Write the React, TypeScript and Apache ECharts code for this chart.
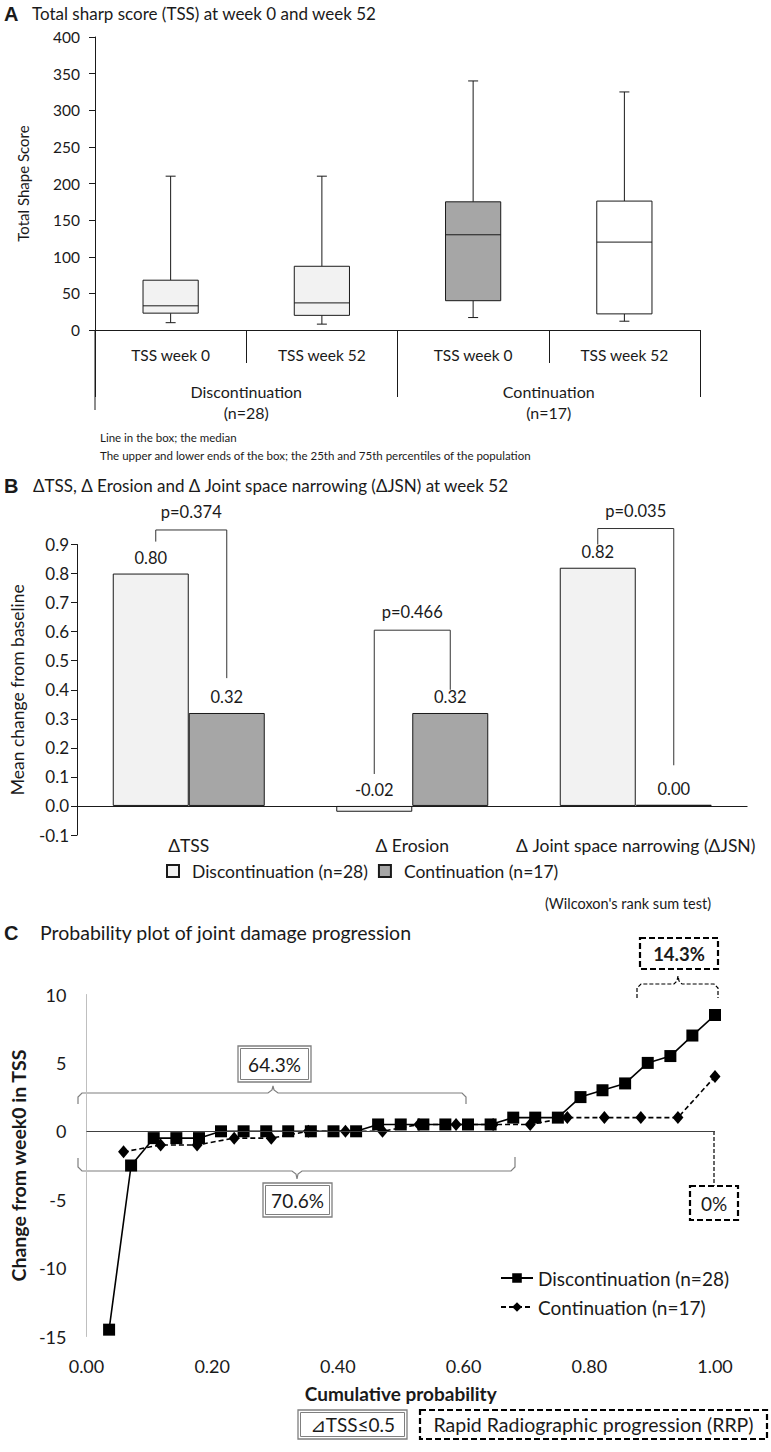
import React, { useEffect, useRef } from "react";
import * as echarts from "echarts";

const FONT = "Lato, 'DejaVu Sans', sans-serif";
const INK = "#1a1a1a";

// ---------- Panel A : Total sharp score boxes ----------
const weekLabels = ["TSS week 0", "TSS week 52", "TSS week 0", "TSS week 52"];
const groupLabels = ["Discontinuation\n(n=28)", "Continuation\n(n=17)"];
const tssMin = [10, 8, 17, 12];
const tssQ1 = [23, 20, 40, 22];
const tssMedian = [33, 37, 130, 120];
const tssQ3 = [68, 87, 175, 176];
const tssMax = [210, 210, 340, 325];
const boxFills = ["#f2f2f2", "#f2f2f2", "#a6a6a6", "#ffffff"];

// ---------- Panel B : mean change from baseline ----------
const deltaLabels = ["ΔTSS", "Δ Erosion", "Δ Joint space narrowing (ΔJSN)"];
const deltaDisc = [0.8, -0.02, 0.82];
const deltaCont = [0.32, 0.32, 0.004];
const pLabels = ["p=0.374", "p=0.466", "p=0.035"];

// ---------- Panel C : probability plot ----------
const discProb = [0.036, 0.071, 0.107, 0.143, 0.179, 0.214, 0.25, 0.286, 0.321, 0.357, 0.393, 0.429, 0.464, 0.5,
  0.536, 0.571, 0.607, 0.643, 0.679, 0.714, 0.75, 0.786, 0.821, 0.857, 0.893, 0.929, 0.964, 1.0];
const discChange = [-14.5, -2.5, -0.5, -0.5, -0.5, 0, 0, 0, 0, 0, 0, 0, 0.5, 0.5,
  0.5, 0.5, 0.5, 0.5, 1, 1, 1, 2.5, 3, 3.5, 5, 5.5, 7, 8.5];
const contProb = [0.059, 0.118, 0.176, 0.235, 0.294, 0.353, 0.412, 0.471, 0.529, 0.588, 0.647, 0.706, 0.765,
  0.824, 0.882, 0.941, 1.0];
const contChange = [-1.5, -1, -1, -0.5, -0.5, 0, 0, 0, 0.5, 0.5, 0.5, 0.5, 1, 1, 1, 1, 4];

const txt = (text: string, x: number, y: number, size: number, extra: any = {}) => ({
  type: "text",
  x,
  y,
  silent: true,
  style: {
    text,
    fontSize: size,
    fontFamily: FONT,
    fill: INK,
    textAlign: "left",
    textVerticalAlign: "middle",
    ...extra,
  },
});

export default function App() {
  const ref = useRef<HTMLDivElement>(null);

  useEffect(() => {
    const chart = echarts.init(ref.current!, null, { renderer: "svg" });

    const boxData = weekLabels.map((_, i) => [i, tssMin[i], tssQ1[i], tssMedian[i], tssQ3[i], tssMax[i]]);

    const option: any = {
      animation: false,
      backgroundColor: "#ffffff",
      textStyle: { fontFamily: FONT, color: INK },
      grid: [
        { left: 95, right: 71, top: 37, height: 293 },
        { left: 72.5, right: 23.5, top: 544.5, height: 290.5 },
        { left: 77, right: 56, top: 994.5, height: 342 },
      ],
      xAxis: [
        {
          gridIndex: 0,
          type: "category",
          data: weekLabels,
          axisLine: { show: true, lineStyle: { color: INK, width: 1 } },
          axisTick: { show: true, length: 33, lineStyle: { color: INK } },
          axisLabel: { interval: 0, margin: 17, fontSize: 15.5, color: INK, fontFamily: FONT },
        },
        {
          gridIndex: 0,
          type: "category",
          position: "bottom",
          data: groupLabels,
          axisLine: { show: false },
          axisTick: { show: true, length: 67, lineStyle: { color: INK } },
          axisLabel: { interval: 0, margin: 51, fontSize: 16, lineHeight: 21, color: INK, fontFamily: FONT },
        },
        {
          gridIndex: 1,
          type: "category",
          data: deltaLabels,
          axisLine: { show: false, onZero: false },
          axisTick: { show: false },
          axisLabel: { interval: 0, margin: 1, fontSize: 17.5, color: INK, fontFamily: FONT },
        },
        {
          gridIndex: 2,
          type: "value",
          min: 0,
          max: 1,
          interval: 0.2,
          axisLine: { show: false, onZero: false },
          axisTick: { show: false },
          splitLine: { show: false },
          axisLabel: { margin: 20, fontSize: 18, color: INK, fontFamily: FONT, formatter: (v: number) => v.toFixed(2) },
          name: "Cumulative probability",
          nameLocation: "middle",
          nameGap: 47,
          nameTextStyle: { fontWeight: "bold", fontSize: 19, color: INK, fontFamily: FONT },
        },
      ],
      yAxis: [
        {
          gridIndex: 0,
          type: "value",
          min: 0,
          max: 400,
          interval: 50,
          axisLine: { show: true, lineStyle: { color: INK } },
          axisTick: { show: true, length: 6, lineStyle: { color: INK } },
          splitLine: { show: false },
          axisLabel: { margin: 15, fontSize: 15.5, color: INK, fontFamily: FONT },
          name: "Total Shape Score",
          nameLocation: "middle",
          nameGap: 65,
          nameTextStyle: { fontSize: 15, color: INK, fontFamily: FONT },
        },
        {
          gridIndex: 1,
          type: "value",
          min: -0.1,
          max: 0.9,
          interval: 0.1,
          axisLine: { show: true, lineStyle: { color: INK } },
          axisTick: { show: true, length: 6, lineStyle: { color: INK } },
          splitLine: { show: false },
          axisLabel: { margin: 8, fontSize: 17, color: INK, fontFamily: FONT, formatter: (v: number) => v.toFixed(1) },
          name: "Mean change from baseline",
          nameLocation: "middle",
          nameGap: 51,
          nameTextStyle: { fontSize: 17.5, color: INK, fontFamily: FONT },
        },
        {
          gridIndex: 2,
          type: "value",
          min: -15,
          max: 10,
          interval: 5,
          axisLine: { show: true, onZero: false, lineStyle: { color: "#bfbfbf" } },
          axisTick: { show: false },
          splitLine: { show: false },
          axisLabel: { margin: 20, fontSize: 18, color: INK, fontFamily: FONT },
          name: "Change from week0 in TSS",
          nameLocation: "middle",
          nameGap: 52,
          nameTextStyle: { fontWeight: "bold", fontSize: 19.5, color: INK, fontFamily: FONT },
        },
      ],
      legend: [
        {
          data: ["Discontinuation (n=28)", "Continuation (n=17)"],
          left: 161,
          top: 857,
          icon: "rect",
          itemWidth: 12,
          itemHeight: 12,
          itemGap: 10,
          selectedMode: false,
          textStyle: { fontSize: 17.5, color: INK, fontFamily: FONT, padding: [0, 0, 0, 8] },
        },
        {
          data: ["discC", "contC"],
          formatter: (n: string) => (n === "discC" ? "Discontinuation (n=28)" : "Continuation (n=17)"),
          orient: "vertical",
          left: 495,
          top: 1263,
          itemWidth: 32,
          itemHeight: 12,
          itemGap: 9,
          selectedMode: false,
          textStyle: { fontSize: 19, lineHeight: 20, color: INK, fontFamily: FONT },
        },
      ],
      series: [
        {
          type: "custom",
          xAxisIndex: 0,
          yAxisIndex: 0,
          data: boxData,
          renderItem: (params: any, api: any) => {
            const i = api.value(0);
            const cx = api.coord([i, 0])[0];
            const w = api.size([1, 0])[0] * 0.365;
            const yMin = api.coord([i, api.value(1)])[1];
            const yQ1 = api.coord([i, api.value(2)])[1];
            const yMed = api.coord([i, api.value(3)])[1];
            const yQ3 = api.coord([i, api.value(4)])[1];
            const yMax = api.coord([i, api.value(5)])[1];
            const ls = { stroke: INK, lineWidth: 1 };
            return {
              type: "group",
              children: [
                { type: "line", shape: { x1: cx, y1: yMax, x2: cx, y2: yQ3 }, style: ls },
                { type: "line", shape: { x1: cx - 5, y1: yMax, x2: cx + 5, y2: yMax }, style: ls },
                { type: "line", shape: { x1: cx, y1: yQ1, x2: cx, y2: yMin }, style: ls },
                { type: "line", shape: { x1: cx - 5, y1: yMin, x2: cx + 5, y2: yMin }, style: ls },
                {
                  type: "rect",
                  shape: { x: cx - w / 2, y: yQ3, width: w, height: yQ1 - yQ3 },
                  style: { fill: boxFills[i], stroke: INK, lineWidth: 1 },
                },
                { type: "line", shape: { x1: cx - w / 2, y1: yMed, x2: cx + w / 2, y2: yMed }, style: ls },
              ],
            };
          },
        },
        {
          type: "bar",
          name: "Discontinuation (n=28)",
          xAxisIndex: 2,
          yAxisIndex: 1,
          data: deltaDisc,
          barWidth: 76,
          barGap: "0%",
          itemStyle: { color: "#f2f2f2", borderColor: INK, borderWidth: 1 },
          label: {
            show: true,
            position: "top",
            distance: 7,
            fontSize: 16.5,
            color: INK,
            fontFamily: FONT,
            formatter: (p: any) => Number(p.value).toFixed(2),
          },
          markLine: {
            silent: true,
            symbol: ["none", "none"],
            label: { show: false },
            lineStyle: { color: INK, width: 1, type: "solid" },
            data: [{ yAxis: 0 }],
          },
        },
        {
          type: "bar",
          name: "Continuation (n=17)",
          xAxisIndex: 2,
          yAxisIndex: 1,
          data: deltaCont,
          barWidth: 76,
          barGap: "0%",
          itemStyle: { color: "#a6a6a6", borderColor: INK, borderWidth: 1 },
          label: {
            show: true,
            position: "top",
            distance: 7,
            fontSize: 16.5,
            color: INK,
            fontFamily: FONT,
            formatter: (p: any) => Number(p.value).toFixed(2),
          },
        },
        {
          type: "line",
          name: "discC",
          xAxisIndex: 3,
          yAxisIndex: 2,
          data: discProb.map((p, i) => [p, discChange[i]]),
          symbol: "rect",
          symbolSize: 12,
          showAllSymbol: true,
          lineStyle: { color: "#000", width: 1.6 },
          itemStyle: { color: "#000" },
          z: 3,
          markLine: {
            silent: true,
            symbol: ["none", "none"],
            label: { show: false },
            lineStyle: { color: "#404040", width: 1, type: "solid" },
            data: [{ yAxis: 0 }],
          },
        },
        {
          type: "line",
          name: "contC",
          xAxisIndex: 3,
          yAxisIndex: 2,
          data: contProb.map((p, i) => [p, contChange[i]]),
          symbol: "diamond",
          symbolSize: [11, 13],
          showAllSymbol: true,
          lineStyle: { color: "#000", width: 1.6, type: [5, 3] },
          itemStyle: { color: "#000" },
          z: 2,
        },
      ],
    };

    chart.setOption(option);

    // ---- annotations ----
    const g: any[] = [];
    const letterFont = "'Liberation Sans', Arial, sans-serif";
    g.push(txt("A", 4, 14, 20, { fontWeight: "bold", fontFamily: letterFont }));
    g.push(txt("Total sharp score (TSS) at week 0 and week 52", 32, 13, 17));
    g.push(txt("B", 4, 486, 20, { fontWeight: "bold", fontFamily: letterFont }));
    g.push(txt("ΔTSS, Δ Erosion and Δ Joint space narrowing (ΔJSN) at week 52", 33, 485, 17));
    g.push(txt("C", 4, 933, 20, { fontWeight: "bold", fontFamily: letterFont }));
    g.push(txt("Probability plot of joint damage progression", 40, 932, 19.5));

    // panel A extras
    g.push({ type: "line", silent: true, shape: { x1: 95, y1: 330, x2: 95, y2: 410 }, style: { stroke: INK, lineWidth: 1 } });
    g.push(txt("Line in the box; the median", 100, 437, 11.5));
    g.push(txt("The upper and lower ends of the box; the 25th and 75th percentiles of the population", 100, 455, 11.5));

    // panel B p-value brackets
    const half = 38;
    const brTop = [0.95, 0.605, 0.955];
    const brLeft = [0.91, 0.11, 0.9];
    const brRight = [0.44, 0.4, 0.14];
    for (let k = 0; k < 3; k++) {
      const c = chart.convertToPixel({ seriesIndex: 1 }, [k, 0]) as number[];
      const xl = c[0] - half + (k === 0 ? 5 : 0);
      const xr = c[0] + half;
      const yt = (chart.convertToPixel({ seriesIndex: 1 }, [k, brTop[k]]) as number[])[1];
      const yl = (chart.convertToPixel({ seriesIndex: 1 }, [k, brLeft[k]]) as number[])[1];
      const yr = (chart.convertToPixel({ seriesIndex: 1 }, [k, brRight[k]]) as number[])[1];
      g.push({
        type: "polyline",
        silent: true,
        shape: { points: [[xl, yl], [xl, yt], [xr, yt], [xr, yr]] },
        style: { stroke: "#333", lineWidth: 1, fill: "none" },
      });
      g.push(txt(pLabels[k], (xl + xr) / 2, yt - 18, 16.5, { textAlign: "center" }));
    }
    g.push(txt("(Wilcoxon's rank sum test)", 545, 903, 14.5));

    // panel C brackets
    const grey = "#7f7f7f";
    g.push({
      type: "polyline",
      silent: true,
      shape: {
        points: [[78, 1104], [78, 1097], [82, 1093], [268, 1093], [272, 1090], [273, 1086], [274, 1090], [278, 1093],
          [462, 1093], [466, 1097], [466, 1104]],
      },
      style: { stroke: grey, lineWidth: 1.2, fill: "none" },
    });
    g.push({
      type: "polyline",
      silent: true,
      shape: {
        points: [[78, 1158], [78, 1167], [82, 1171], [292, 1171], [296, 1174], [297, 1179], [298, 1174], [302, 1171],
          [511, 1171], [515, 1167], [515, 1157]],
      },
      style: { stroke: grey, lineWidth: 1.2, fill: "none" },
    });
    const dblBox = (x: number, y: number, w: number, h: number, label: string, size: number) => {
      g.push({ type: "rect", silent: true, shape: { x, y, width: w, height: h }, style: { fill: "#fff", stroke: grey, lineWidth: 1.3 } });
      g.push({ type: "rect", silent: true, shape: { x: x + 2.5, y: y + 2.5, width: w - 5, height: h - 5 }, style: { fill: "none", stroke: grey, lineWidth: 1 } });
      g.push(txt(label, x + w / 2, y + h / 2, size, { textAlign: "center" }));
    };
    const dashBox = (x: number, y: number, w: number, h: number, label: string, size: number, bold: boolean) => {
      g.push({ type: "rect", silent: true, shape: { x, y, width: w, height: h }, style: { fill: "#fff", stroke: "#000", lineWidth: 2.2, lineDash: [6, 3] } });
      g.push(txt(label, x + w / 2, y + h / 2, size, { textAlign: "center", fontWeight: bold ? "bold" : "normal" }));
    };
    dblBox(238, 1046, 73, 36, "64.3%", 19);
    dblBox(263, 1183, 69, 34, "70.6%", 19);

    // RRP upper dashed bracket
    g.push({
      type: "polyline",
      silent: true,
      shape: {
        points: [[637, 998], [637, 988], [641, 984], [674, 984], [677, 981], [678, 976], [679, 981], [682, 984],
          [714, 984], [718, 988], [718, 998]],
      },
      style: { stroke: "#000", lineWidth: 1.2, fill: "none", lineDash: [4, 2] },
    });
    dashBox(640, 938, 78, 31, "14.3%", 18.5, true);
    // RRP lower
    g.push({
      type: "line",
      silent: true,
      shape: { x1: 714, y1: 1131, x2: 714, y2: 1186 },
      style: { stroke: "#000", lineWidth: 1.2, lineDash: [4, 2] },
    });
    dashBox(690, 1186, 48, 34, "0%", 19, false);

    // bottom key
    dblBox(298, 1410, 109, 29, "⊿TSS≤0.5", 19);
    dashBox(420, 1410, 347, 29, "Rapid Radiographic progression (RRP)", 19.5, false);

    chart.setOption({ graphic: g });

    return () => chart.dispose();
  }, []);

  return (
    <div
      ref={ref}
      style={{ position: "absolute", left: 0, top: 0, width: 771, height: 1452, background: "#fff" }}
    />
  );
}
